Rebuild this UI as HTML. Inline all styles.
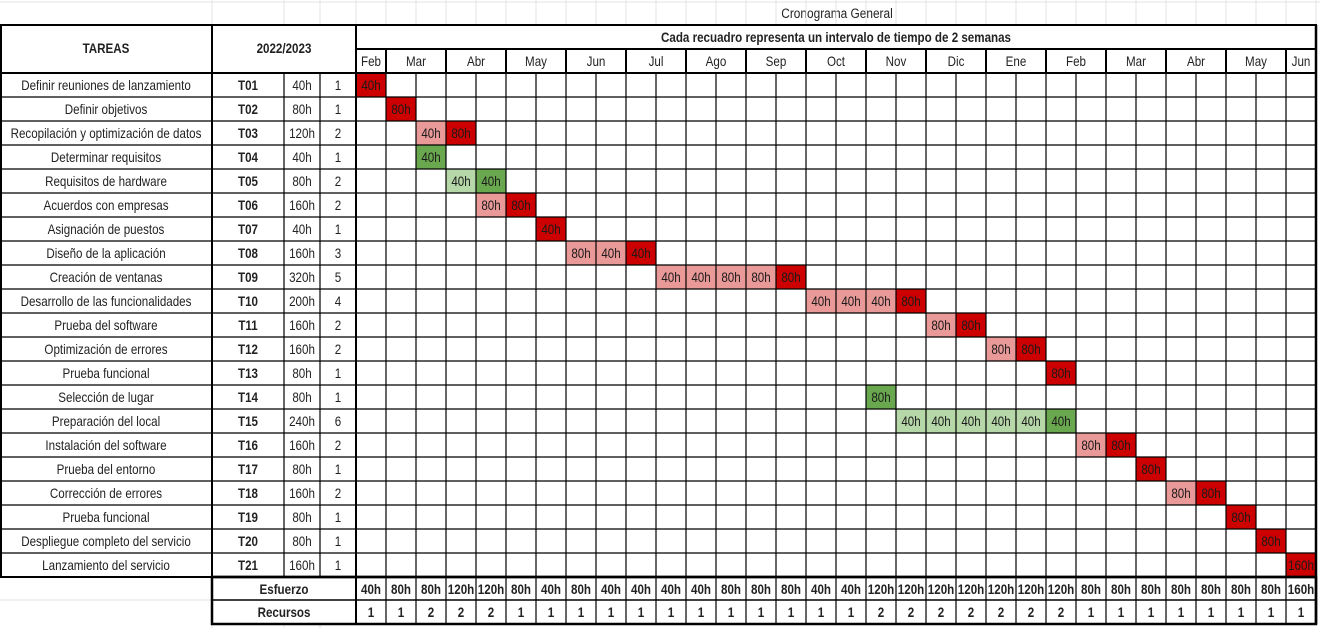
<!DOCTYPE html>
<html><head><meta charset="utf-8"><style>
body{margin:0;background:#fff;}
svg{display:block;font-family:"Liberation Sans",Arial,sans-serif;}
</style></head><body>
<svg id="c" width="1320" height="628" viewBox="0 0 1320 628" xmlns="http://www.w3.org/2000/svg">
<text transform="translate(837 18) scale(0.88 1)" font-size="13.5" text-anchor="middle" fill="#222">Cronograma General</text>
</svg>
<script>
const months=["Feb","Mar","Abr","May","Jun","Jul","Ago","Sep","Oct","Nov","Dic","Ene","Feb","Mar","Abr","May","Jun"];
const monthSpans=[1,2,2,2,2,2,2,2,2,2,2,2,2,2,2,2,1];
const taskNames=["Definir reuniones de lanzamiento","Definir objetivos","Recopilación y optimización de datos","Determinar requisitos","Requisitos de hardware","Acuerdos con empresas","Asignación de puestos","Diseño de la aplicación","Creación de ventanas","Desarrollo de las funcionalidades","Prueba del software","Optimización de errores","Prueba funcional","Selección de lugar","Preparación del local","Instalación del software","Prueba del entorno","Corrección de errores","Prueba funcional","Despliegue completo del servicio","Lanzamiento del servicio"];
const taskIds=["T01","T02","T03","T04","T05","T06","T07","T08","T09","T10","T11","T12","T13","T14","T15","T16","T17","T18","T19","T20","T21"];
const taskHours=["40h","80h","120h","40h","80h","160h","40h","160h","320h","200h","160h","160h","80h","80h","240h","160h","80h","160h","80h","80h","160h"];
const taskRes=[1,1,2,1,2,2,1,3,5,4,2,2,1,1,6,2,1,2,1,1,1];
// [row, column, label, type]  R=red P=pink G=green L=light green
const bars=[[0,0,"40h","R"],[1,1,"80h","R"],[2,2,"40h","P"],[2,3,"80h","R"],[3,2,"40h","G"],[4,3,"40h","L"],[4,4,"40h","G"],[5,4,"80h","P"],[5,5,"80h","R"],[6,6,"40h","R"],[7,7,"80h","P"],[7,8,"40h","P"],[7,9,"40h","R"],[8,10,"40h","P"],[8,11,"40h","P"],[8,12,"80h","P"],[8,13,"80h","P"],[8,14,"80h","R"],[9,15,"40h","P"],[9,16,"40h","P"],[9,17,"40h","P"],[9,18,"80h","R"],[10,19,"80h","P"],[10,20,"80h","R"],[11,21,"80h","P"],[11,22,"80h","R"],[12,23,"80h","R"],[13,17,"80h","G"],[14,18,"40h","L"],[14,19,"40h","L"],[14,20,"40h","L"],[14,21,"40h","L"],[14,22,"40h","L"],[14,23,"40h","G"],[15,24,"80h","P"],[15,25,"80h","R"],[16,26,"80h","R"],[17,27,"80h","P"],[17,28,"80h","R"],[18,29,"80h","R"],[19,30,"80h","R"],[20,31,"160h","R"]];
const effort=["40h","80h","80h","120h","120h","80h","40h","80h","40h","40h","40h","40h","80h","80h","80h","40h","40h","120h","120h","120h","120h","120h","120h","120h","80h","80h","80h","80h","80h","80h","80h","160h"];
const resources=[1,1,2,2,2,1,1,1,1,1,1,1,1,1,1,1,1,2,2,2,2,2,2,2,1,1,1,1,1,1,1,1];

const svg=document.getElementById('c');
const NS="http://www.w3.org/2000/svg";
const X0=356,CW=30,Y0=73,RH=24,NC=32,NR=21;
const colX=i=>X0+CW*i, rowY=r=>Y0+RH*r;
const colors={R:"#cc0000",P:"#ea9999",G:"#6aa84f",L:"#b6d7a8"};
function mk(tag,a,txt){const e=document.createElementNS(NS,tag);for(const k in a)e.setAttribute(k,a[k]);if(txt!==undefined)e.textContent=txt;svg.appendChild(e);return e;}
function line(x1,y1,x2,y2,w,c){return mk('line',{x1,y1,x2,y2,stroke:c||'#000','stroke-width':w||1});}
function txt(x,y,s,o){return mk('text',Object.assign({transform:'translate('+x+' '+y+') scale(0.86 1)','font-size':13.5,'text-anchor':'middle',fill:'#222'},o||{}),s);}
// faint spreadsheet grid
for(let i=0;i<=NC;i++)line(colX(i),0,colX(i),25,1,'#e3e3e3');
[212,284,320].forEach(x=>{line(x,0,x,25,1,'#e3e3e3');line(x,624,x,628,1,'#e3e3e3');});
line(0,2,1320,2,1,'#e3e3e3');line(0,600,212,600,1,'#e3e3e3');
// bars
bars.forEach(b=>{
 const r=mk('rect',{x:colX(b[1]),y:rowY(b[0]),width:CW,height:RH,fill:colors[b[3]]});
 
 
 const t=txt(colX(b[1])+CW/2,rowY(b[0])+17,b[2],{fill:'#1a1a1a'});
 
 
});
// task table text
for(let r=0;r<NR;r++){
 const y=rowY(r)+17;
 const a=txt(106,y,taskNames[r]);
 const b=txt(248,y,taskIds[r],{'font-weight':'bold'});
 const c=txt(302,y,taskHours[r]);
 const d=txt(338,y,taskRes[r]);
}
// grid lines task area
for(let r=1;r<NR;r++)line(0,rowY(r),1316,rowY(r),1.2);
for(let i=1;i<NC;i++){line(colX(i),Y0,colX(i),624,1.2);}
[284,320].forEach(x=>line(x,Y0,x,577,1.2));
line(212,25,212,624,2);line(356,25,356,624,2);
// month header
let mc=0;
months.forEach((m,i)=>{
 const t=txt(colX(mc)+monthSpans[i]*CW/2,66,m);
 
 
 mc+=monthSpans[i];
 if(mc<NC)line(colX(mc),49,colX(mc),73,2);
});
line(356,49,1316,49,2);line(0,73,1316,73,2);
const h1=txt(836,42,"Cada recuadro representa un intervalo de tiempo de 2 semanas",{'font-weight':'bold'});

const h2=txt(106,53,"TAREAS",{'font-weight':'bold'});
const h3=txt(284,53,"2022/2023",{'font-weight':'bold'});
// summary rows
line(212,577,1316,577,2.5);line(212,600,1316,600,1.5);
for(let i=0;i<NC;i++){
 const e=txt(colX(i)+CW/2,594,effort[i],{'font-weight':'bold'});
 
 const r=txt(colX(i)+CW/2,617,resources[i],{'font-weight':'bold'});
 
}
const s1=txt(284,594,"Esfuerzo",{'font-weight':'bold'});
const s2=txt(284,617,"Recursos",{'font-weight':'bold'});
// outer borders
mk('rect',{x:1,y:25,width:1315,height:552,fill:'none',stroke:'#000','stroke-width':2});
mk('rect',{x:212,y:577,width:1104,height:47,fill:'none',stroke:'#000','stroke-width':2.5});
line(1316,25,1316,624,2.5);
</script>
</body></html>
